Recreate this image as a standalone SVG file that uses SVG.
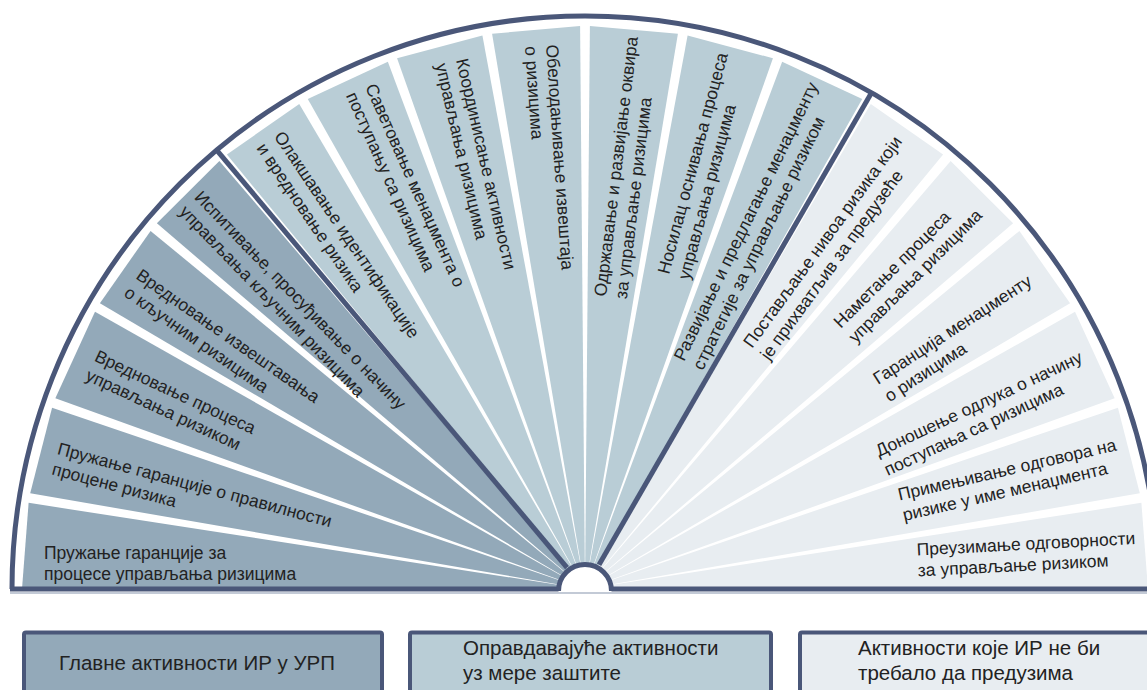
<svg xmlns="http://www.w3.org/2000/svg" width="1147" height="690" viewBox="0 0 1147 690">
  <style>
    .main { fill: #93a9b9; }
    .mid { fill: #b9cdd6; }
    .light { fill: #e8edf1; }
    .lbl { font-family: "Liberation Sans", Arial, sans-serif; font-size: 17.5px; fill: #222; }
    .leg { font-family: "Liberation Sans", Arial, sans-serif; font-size: 20.5px; fill: #222; }
    .rule { fill: none; stroke: #4a5779; stroke-width: 5; }
    .box { stroke: #4a5779; stroke-width: 4; }
  </style>

  <rect width="1147" height="690" fill="#ffffff"/>

  <!-- fan segments around the hub at (585,589), outer radius 563 -->
  <g id="w1"><polygon class="main" points="585,589 22,589 28.62,502.87"/>
    <text class="lbl" transform="translate(44,559)"><tspan x="0" y="0">Пружање гаранције за</tspan><tspan x="0" y="21">процесе управљања ризицима</tspan></text></g>
  <g id="w2"><polygon class="main" points="585,589 30.20,493.29 52.06,407.65"/>
    <text class="lbl" transform="translate(56.5,454) rotate(15)"><tspan x="0" y="0">Пружање гаранције о правилности</tspan><tspan x="0" y="21">процене ризика</tspan></text></g>
  <g id="w3"><polygon class="main" points="585,589 55.35,398.30 94.99,311.77"/>
    <text class="lbl" transform="translate(93.4,360.4) rotate(25)"><tspan x="0" y="0">Вредновање процеса</tspan><tspan x="0" y="21">управљања ризиком</tspan></text></g>
  <g id="w4"><polygon class="main" points="585,589 99.90,303.25 150.58,230.89"/>
    <text class="lbl" transform="translate(135,278) rotate(35)"><tspan x="0" y="0">Вредновање извештавања</tspan><tspan x="0" y="21">о кључним ризицима</tspan></text></g>
  <g id="w5"><polygon class="main" points="585,589 156.89,223.36 219.36,160.89"/>
    <text class="lbl" transform="translate(193.5,198) rotate(46)"><tspan x="0" y="0">Испитивање, просуђивање о начину</tspan><tspan x="0" y="21">управљања кључним ризицима</tspan></text></g>

  <g id="w6"><polygon class="mid" points="585,589 226.89,154.58 299.25,103.90"/>
    <text class="lbl" transform="translate(273.5,136.5) rotate(56)"><tspan x="0" y="0">Олакшавање идентификације</tspan><tspan x="0" y="21">и вредновање ризика</tspan></text></g>
  <g id="w7"><polygon class="mid" points="585,589 307.77,98.99 387.83,61.65"/>
    <text class="lbl" transform="translate(365,87) rotate(66)"><tspan x="0" y="0">Саветовање менаџмента о</tspan><tspan x="0" y="21">поступању са ризицима</tspan></text></g>
  <g id="w8"><polygon class="mid" points="585,589 397.07,58.29 482.40,35.43"/>
    <text class="lbl" transform="translate(456,60) rotate(77)"><tspan x="0" y="0">Координисање активности</tspan><tspan x="0" y="21">управљања ризицима</tspan></text></g>
  <g id="w9"><polygon class="mid" points="585,589 492.08,33.72 580.09,26.02"/>
    <text class="lbl" transform="translate(546,45) rotate(86)"><tspan x="0" y="0">Обелодањивање извештаја</tspan><tspan x="0" y="21">о ризицима</tspan></text></g>
  <g id="w10"><polygon class="mid" points="585,589 589.91,26.02 677.92,33.72"/>
    <text class="lbl" transform="translate(606,297) rotate(-83)"><tspan x="0" y="0">Одржавање и развијање оквира</tspan><tspan x="0" y="21">за управљање ризицима</tspan></text></g>
  <g id="w11"><polygon class="mid" points="585,589 687.60,35.43 772.93,58.29"/>
    <text class="lbl" transform="translate(669,275) rotate(-75)"><tspan x="0" y="0">Носилац оснивања процеса</tspan><tspan x="0" y="21">управљања ризицима</tspan></text></g>
  <g id="w12"><polygon class="mid" points="585,589 782.17,61.65 862.23,98.99"/>
    <text class="lbl" transform="translate(684,362) rotate(-64)"><tspan x="0" y="0">Развијање и предлагање менаџменту</tspan><tspan x="0" y="21">стратегије за управљање ризиком</tspan></text></g>

  <g id="w13"><polygon class="light" points="585,589 870.75,103.90 943.11,154.58"/>
    <text class="lbl" transform="translate(752,349) rotate(-54)"><tspan x="0" y="0">Постављање нивоа ризика који</tspan><tspan x="0" y="21">је прихватљив за предузеће</tspan></text></g>
  <g id="w14"><polygon class="light" points="585,589 950.64,160.89 1013.11,223.36"/>
    <text class="lbl" transform="translate(840.8,329) rotate(-45)"><tspan x="0" y="0">Наметање процеса</tspan><tspan x="0" y="21">управљања ризицима</tspan></text></g>
  <g id="w15"><polygon class="light" points="585,589 1019.42,230.89 1070.10,303.25"/>
    <text class="lbl" transform="translate(878,385) rotate(-33)"><tspan x="0" y="0">Гаранција менаџменту</tspan><tspan x="0" y="21">о ризицима</tspan></text></g>
  <g id="w16"><polygon class="light" points="585,589 1075.01,311.77 1114.65,398.30"/>
    <text class="lbl" transform="translate(879,457) rotate(-25)"><tspan x="0" y="0">Доношење одлука о начину</tspan><tspan x="0" y="21">поступања са ризицима</tspan></text></g>
  <g id="w17"><polygon class="light" points="585,589 1117.94,407.65 1139.80,493.29"/>
    <text class="lbl" transform="translate(899.5,500.5) rotate(-13)"><tspan x="0" y="0">Примењивање одговора на</tspan><tspan x="0" y="21">ризике у име менаџмента</tspan></text></g>
  <g id="w18"><polygon class="light" points="585,589 1141.38,502.87 1148,589"/>
    <text class="lbl" transform="translate(917,555.5) rotate(-3)"><tspan x="0" y="0">Преузимање одговорности</tspan><tspan x="0" y="21">за управљање ризиком</tspan></text></g>

  <!-- outline, base line, group dividers and hub -->
  <g id="connectors">
    <line x1="10" y1="593" x2="1147" y2="593" stroke="#c3cad6" stroke-width="2"/>
    <path class="rule" d="M 12 589 A 573 573 0 0 1 1158 589"/>
    <line class="rule" x1="10" y1="589" x2="1147" y2="589"/>
    <line class="rule" x1="567" y1="567.6" x2="216.7" y2="150.1"/>
    <line class="rule" x1="599" y1="564.8" x2="871.5" y2="92.8"/>
    <path d="M 558.5 592 A 26.5 26.5 0 0 1 611.5 592 Z" fill="#ffffff"/>
    <path class="rule" stroke-width="4.5" d="M 558.5 591 A 26.5 26.5 0 0 1 611.5 591"/>
  </g>

  <!-- legend -->
  <g id="legend-main">
    <rect class="box main" x="24" y="632.5" width="358" height="80" rx="2"/>
    <text class="leg" x="59" y="670">Главне активности ИР у УРП</text>
  </g>
  <g id="legend-mid">
    <rect class="box mid" x="410" y="632.5" width="361" height="80" rx="2"/>
    <text class="leg" x="463" y="655">Оправдавајуће активности</text>
    <text class="leg" x="463" y="680">уз мере заштите</text>
  </g>
  <g id="legend-light">
    <rect class="box light" x="800" y="632.5" width="400" height="80" rx="2"/>
    <text class="leg" x="858" y="655">Активности које ИР не би</text>
    <text class="leg" x="858" y="680">требало да предузима</text>
  </g>
</svg>
